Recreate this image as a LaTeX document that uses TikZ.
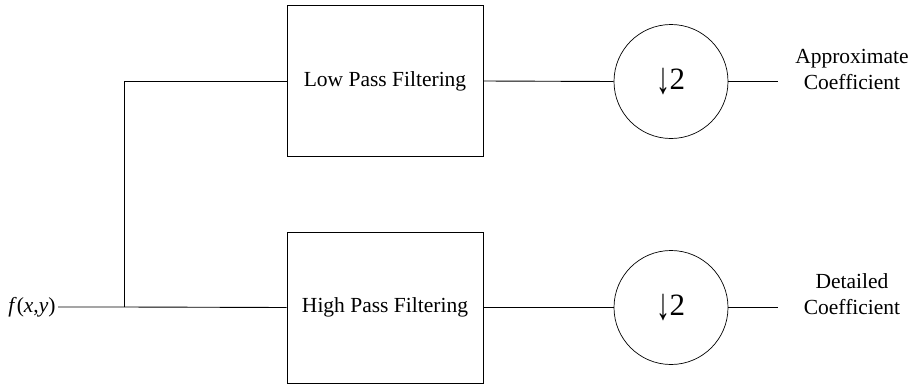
\documentclass[tikz,border=0pt]{standalone}
\usepackage{fontspec}
\usepackage{graphicx}
\setmainfont{Liberation Serif}
% tall, narrow down-arrow for the decimation symbol
\newcommand{\decarrow}{\raisebox{-4pt}{\scalebox{0.9}[1.45]{↓}}}
\begin{document}
\begin{tikzpicture}[x=1pt,y=-1pt,
  line width=0.9pt,
  every node/.style={font=\fontsize{21.5}{26}\selectfont},
  filterbox/.style={draw, rectangle, minimum width=196pt, minimum height=151pt, inner sep=0pt},
  downsamp/.style={draw, circle, minimum size=114pt, inner sep=0pt, line width=0.7pt, font=\fontsize{31}{36}\selectfont},
  outlabel/.style={align=center, inner sep=0pt}]
  \useasboundingbox (0,0) rectangle (919,386);

  % input signal
  \node[anchor=east, inner sep=2pt] (in) at (58,307) {\textit{f}(\textit{x},\textit{y})};
  \coordinate (split) at (124,307);

  % filter bank
  \node[filterbox] (lpf) at (385,81) {Low Pass Filtering};
  \node[filterbox] (hpf) at (385,307.5) {High Pass Filtering};

  % downsamplers by two
  \node[downsamp] (dsa) at (671,81.5) {\decarrow\kern-1pt 2};
  \node[downsamp] (dsd) at (671,307.5) {\decarrow\kern-1pt 2};

  % outputs
  \coordinate (outa) at (778,81.5);
  \coordinate (outd) at (778,307.5);
  \node[outlabel] (la) at (852,69) {Approximate\\Coefficient};
  \node[outlabel] (ld) at (852,294) {Detailed\\Coefficient};

  % connectors
  \draw (in.east) -- (split) -- (hpf.west);
  \draw (split) |- (lpf.west);
  \draw (lpf.east) -- (dsa.west);
  \draw (hpf.east) -- (dsd.west);
  \draw (dsa.east) -- (outa);
  \draw (dsd.east) -- (outd);
\end{tikzpicture}
\end{document}
